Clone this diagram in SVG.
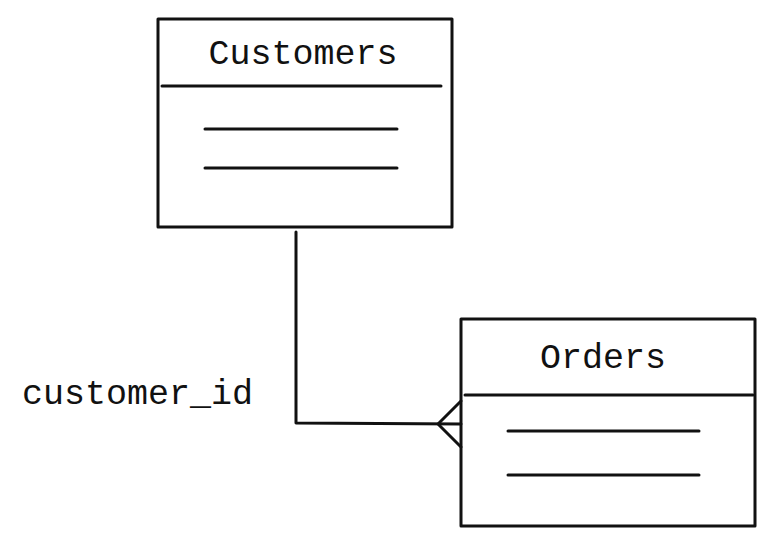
<svg xmlns="http://www.w3.org/2000/svg" width="775" height="546" viewBox="0 0 775 546">
<style>
.s{fill:none;stroke:#111;stroke-width:3;stroke-linecap:round;stroke-linejoin:round}
.t{font-family:"Liberation Mono",monospace;font-size:35px;fill:#111}
</style>
<rect width="775" height="546" fill="#fff"/>
<g id="customers">
<rect class="s" x="158" y="19" width="294" height="208"/>
<line class="s" x1="162" y1="86" x2="441" y2="86"/>
<line class="s" x1="205" y1="129" x2="397" y2="129"/>
<line class="s" x1="205" y1="168" x2="397" y2="168"/>
<text class="t" x="303" y="64" text-anchor="middle">Customers</text>
</g>
<g id="orders">
<rect class="s" x="461" y="319" width="294" height="207"/>
<line class="s" x1="465" y1="395" x2="753" y2="395"/>
<line class="s" x1="508" y1="431" x2="699" y2="431"/>
<line class="s" x1="508" y1="475" x2="699" y2="475"/>
<text class="t" x="603" y="368" text-anchor="middle">Orders</text>
</g>
<g id="connectors">
<polyline class="s" points="296,232 296,423 461,424"/>
<polyline class="s" points="461,401 438,424 461,447"/>
<text class="t" x="22" y="404">customer_id</text>
</g>
</svg>
